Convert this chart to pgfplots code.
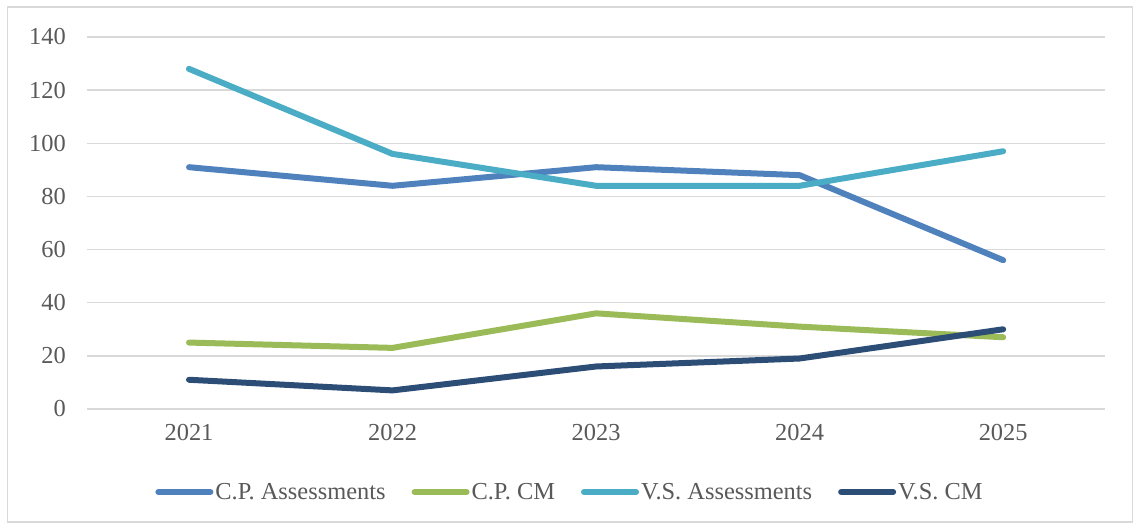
\documentclass[border=0pt]{standalone}
\usepackage{fontspec}
\setmainfont{Liberation Serif}
\usepackage{pgfplots}
\pgfplotsset{compat=1.18}

\definecolor{cpa}{HTML}{4F81BD}
\definecolor{cpcm}{HTML}{9BBB59}
\definecolor{vsa}{HTML}{4BACC6}
\definecolor{vscm}{HTML}{2C4D75}
\definecolor{txt}{HTML}{595959}
\definecolor{grd}{HTML}{D9D9D9}

\begin{document}
\begin{tikzpicture}[x=1bp,y=1bp]
\useasboundingbox (-87.25,-116) rectangle (1048.75,409);
\draw[grd, line width=1.2bp] (-80,-113) rectangle (1045.5,402);

\begin{axis}[
  scale only axis,
  width=1017.75bp, height=372bp,
  xmin=2020.5, xmax=2025.5,
  ymin=0, ymax=140,
  xtick={2021,2022,2023,2024,2025},
  ytick={0,20,...,140},
  xticklabel style={/pgf/number format/1000 sep={}},
  /pgf/number format/assume math mode=true,
  axis line style={draw=none},
  major tick length=0pt,
  ymajorgrids,
  grid style={grd, line width=1.3bp},
  tick label style={font=\fontsize{24.5}{28}\selectfont, text=txt},
  yticklabel style={xshift=-18bp},
  xticklabel style={yshift=-12bp},
  legend columns=4,
  legend style={
    at={(0.4743,-0.2231)}, anchor=center, draw=none,
    font=\fontsize{24.5}{28}\selectfont, text=txt,
    /tikz/every even column/.append style={column sep=24bp},
    inner sep=0pt,
    nodes={inner xsep=2bp},
  },
  legend image code/.code={\draw[#1, line width=6bp, line cap=round] (0bp,0bp) -- (52bp,0bp);},
  every axis plot/.append style={line width=6bp, line cap=round, line join=round},
]
\addplot[cpa] coordinates {(2021,91) (2022,84) (2023,91) (2024,88) (2025,56)};
\addplot[cpcm] coordinates {(2021,25) (2022,23) (2023,36) (2024,31) (2025,27)};
\addplot[vsa] coordinates {(2021,128) (2022,96) (2023,84) (2024,84) (2025,97)};
\addplot[vscm] coordinates {(2021,11) (2022,7) (2023,16) (2024,19) (2025,30)};
\legend{C.P. Assessments, C.P. CM, V.S. Assessments, V.S. CM}
\end{axis}
\end{tikzpicture}
\end{document}
